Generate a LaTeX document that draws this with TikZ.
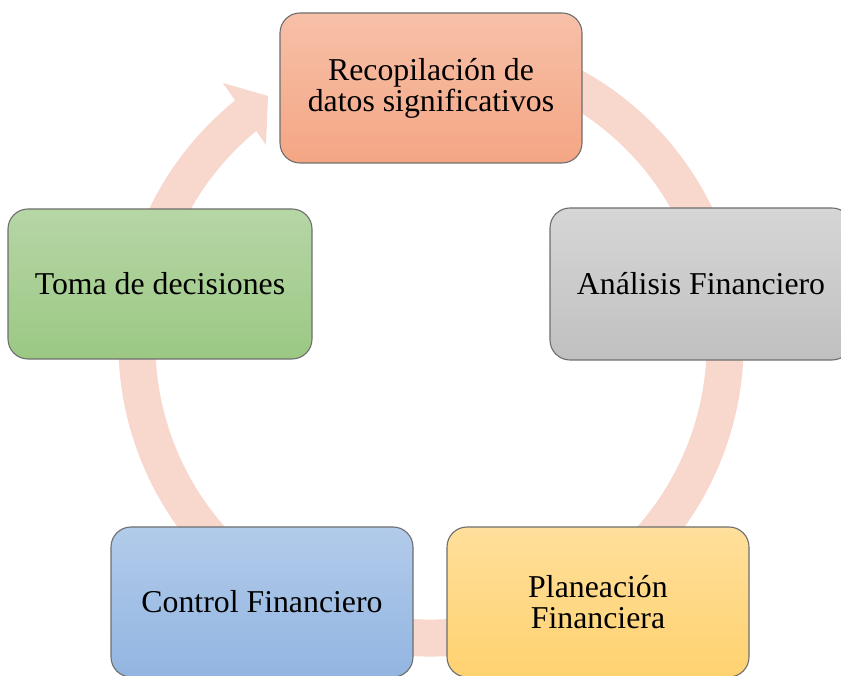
\documentclass[tikz,border=0pt]{standalone}
\usepackage{fontspec}
\setmainfont{Liberation Serif}
\usetikzlibrary{calc}
\definecolor{ringc}{RGB}{248,215,204}
\definecolor{edgec}{RGB}{110,110,110}
\definecolor{redT}{RGB}{247,192,168}
\definecolor{redB}{RGB}{244,166,132}
\definecolor{grayT}{RGB}{214,214,214}
\definecolor{grayB}{RGB}{192,192,192}
\definecolor{yelT}{RGB}{255,223,155}
\definecolor{yelB}{RGB}{255,210,112}
\definecolor{bluT}{RGB}{178,203,234}
\definecolor{bluB}{RGB}{146,181,225}
\definecolor{grnT}{RGB}{182,214,166}
\definecolor{grnB}{RGB}{155,200,131}
\tikzset{
  cyclebox/.style={draw=edgec, line width=1.1pt, rounded corners=20pt,
    minimum width=302pt, minimum height=150pt, inner sep=0pt,
    align=center, font=\fontsize{31.8}{31}\selectfont},
  ringband/.style={draw=ringc, line width=37pt},
}
\begin{document}
\begin{tikzpicture}[x=1pt,y=1pt]
\useasboundingbox (0,0) rectangle (841,675);
\clip (0,0) rectangle (841,675);
\coordinate (ctr) at (431,331);
% ring
\draw[ringband] ($(ctr)+(70:294)$) arc[start angle=70, end angle=-232, radius=294];
\fill[ringc] (223,592) -- (268,579) -- (266,530) -- cycle;
% boxes
\node[cyclebox, top color=redT, bottom color=redB] (rec) at (431,587) {Recopilación de\\datos significativos};
\node[cyclebox, top color=grayT, bottom color=grayB, minimum height=152pt] (ana) at (701,391) {Análisis Financiero};
\node[cyclebox, top color=yelT, bottom color=yelB] (pla) at (598,73) {Planeación\\Financiera};
\node[cyclebox, top color=bluT, bottom color=bluB] (con) at (262,73) {Control Financiero};
\node[cyclebox, top color=grnT, bottom color=grnB, minimum width=304pt] (tom) at (160,391) {Toma de decisiones};
\end{tikzpicture}
\end{document}
